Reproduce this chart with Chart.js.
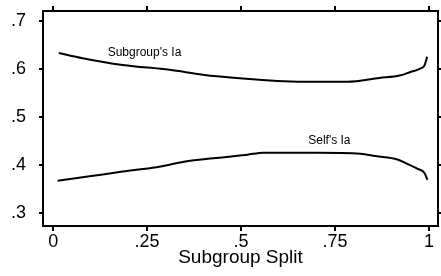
<!DOCTYPE html>
<html lang="en">
<head>
    <meta charset="UTF-8">
    <title>Subgroup Split</title>
    <script src="https://cdn.jsdelivr.net/npm/chart.js"></script>
    <style>
        html, body { margin: 0; padding: 0; background: #fff; }
        #wrap { width: 441px; height: 276px; }
    </style>
</head>
<body>
    <div id="wrap"><canvas id="chart"></canvas></div>
    <script>
        // values
        const splitUpper = [0.015, 0.078, 0.185, 0.31, 0.398, 0.504, 0.597, 0.70, 0.783, 0.868, 0.922, 0.949, 0.975, 0.988, 0.995];
        const subgroupIa = [0.633, 0.622, 0.608, 0.598, 0.588, 0.580, 0.575, 0.573, 0.573, 0.581, 0.586, 0.593, 0.600, 0.607, 0.625];
        const splitLower = [0.012, 0.097, 0.185, 0.275, 0.31, 0.352, 0.406, 0.461, 0.517, 0.56, 0.70, 0.818, 0.858, 0.916, 0.945, 0.969, 0.988, 0.996];
        const selfIa = [0.368, 0.377, 0.387, 0.396, 0.401, 0.408, 0.413, 0.417, 0.422, 0.426, 0.426, 0.424, 0.419, 0.412, 0.402, 0.393, 0.384, 0.370];
        const xTicks = [0, 0.25, 0.5, 0.75, 1];
        const yTicks = [0.3, 0.4, 0.5, 0.6, 0.7];
        const curveLabels = [
            { text: "Subgroup's Ia", x: 0.243, y: 0.633 },
            { text: "Self's Ia", x: 0.735, y: 0.450 }
        ];

        const fmt = v => {
            if (v === 0) return '0';
            if (v === 1) return '1';
            return String(+v.toFixed(2)).replace(/^0/, '');
        };

        const toPoints = (xs, ys) => xs.map((x, i) => ({ x: x, y: ys[i] }));

        // fixed box sizes so the plot area sits where it does in the picture
        const fixBox = (w, h) => s => {
            if (w !== null) s.width = w;
            if (h !== null) s.height = h;
            s.paddingTop = 0; s.paddingBottom = 0;
            s.paddingLeft = 0; s.paddingRight = 0;
        };

        const curveText = {
            id: 'curveText',
            afterDatasetsDraw(chart) {
                const ctx = chart.ctx;
                const xs = chart.scales.x, ys = chart.scales.y;
                ctx.save();
                ctx.fillStyle = '#000';
                ctx.font = '12px "Liberation Sans", Arial, sans-serif';
                ctx.textAlign = 'center';
                ctx.textBaseline = 'middle';
                curveLabels.forEach(l => {
                    ctx.fillText(l.text, xs.getPixelForValue(l.x), ys.getPixelForValue(l.y));
                });
                ctx.restore();
            }
        };

        const tickFont = { family: '"Liberation Sans", Arial, sans-serif', size: 18 };
        const frame = { display: true, color: '#000', width: 2 };

        new Chart(document.getElementById('chart'), {
            type: 'scatter',
            data: {
                datasets: [
                    {
                        label: "Subgroup's Ia",
                        data: toPoints(splitUpper, subgroupIa),
                        showLine: true,
                        borderColor: '#000',
                        borderWidth: 2,
                        pointRadius: 0,
                        cubicInterpolationMode: 'monotone'
                    },
                    {
                        label: "Self's Ia",
                        data: toPoints(splitLower, selfIa),
                        showLine: true,
                        borderColor: '#000',
                        borderWidth: 2,
                        pointRadius: 0,
                        cubicInterpolationMode: 'monotone'
                    }
                ]
            },
            options: {
                responsive: true,
                maintainAspectRatio: false,
                animation: false,
                layout: { padding: 0 },
                plugins: {
                    legend: { display: false },
                    tooltip: { enabled: false }
                },
                scales: {
                    x: {
                        type: 'linear',
                        position: 'bottom',
                        min: -0.027,
                        max: 1.024,
                        afterBuildTicks: s => { s.ticks = xTicks.map(v => ({ value: v })); },
                        afterFit: fixBox(null, 50),
                        border: frame,
                        grid: { drawOnChartArea: false, color: '#000', lineWidth: 2, tickLength: 5 },
                        ticks: { color: '#000', font: tickFont, padding: 0, maxRotation: 0, callback: fmt },
                        title: {
                            display: true,
                            text: 'Subgroup Split',
                            color: '#000',
                            font: { family: '"Liberation Sans", Arial, sans-serif', size: 19 },
                            padding: { top: 0, bottom: 7 }
                        }
                    },
                    xTop: {
                        type: 'linear',
                        position: 'top',
                        min: -0.027,
                        max: 1.024,
                        afterBuildTicks: s => { s.ticks = xTicks.map(v => ({ value: v })); },
                        afterFit: fixBox(null, 11),
                        border: frame,
                        grid: { drawOnChartArea: false, color: '#000', lineWidth: 2, tickLength: 5 },
                        ticks: { display: false }
                    },
                    y: {
                        type: 'linear',
                        position: 'left',
                        min: 0.274,
                        max: 0.72,
                        afterBuildTicks: s => { s.ticks = yTicks.map(v => ({ value: v })); },
                        afterFit: fixBox(43, null),
                        border: frame,
                        grid: { drawOnChartArea: false, color: '#000', lineWidth: 2, tickLength: 4 },
                        ticks: { color: '#000', font: tickFont, padding: 13, callback: fmt }
                    },
                    yRight: {
                        type: 'linear',
                        position: 'right',
                        min: 0.274,
                        max: 0.72,
                        afterBuildTicks: s => { s.ticks = yTicks.map(v => ({ value: v })); },
                        afterFit: fixBox(3, null),
                        border: frame,
                        grid: { drawOnChartArea: false, color: '#000', lineWidth: 2, tickLength: 3 },
                        ticks: { display: false }
                    }
                }
            },
            plugins: [curveText]
        });
    </script>
</body>
</html>
